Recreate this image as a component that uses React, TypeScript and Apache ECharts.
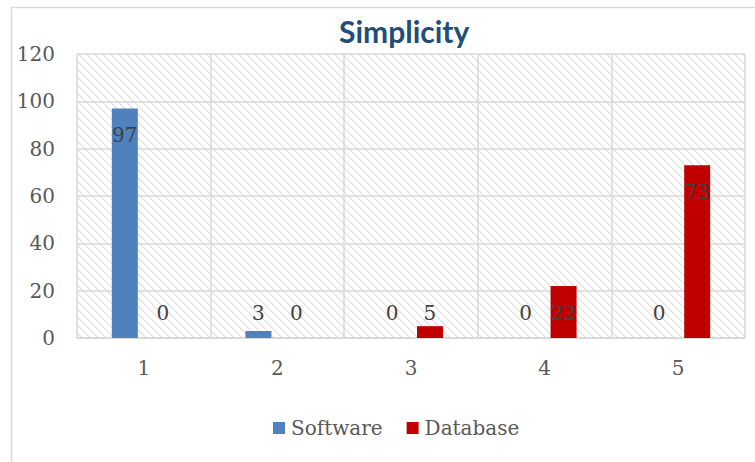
import React, { useEffect, useRef } from "react";
import * as echarts from "echarts";

const categories = ["1", "2", "3", "4", "5"];
const softwareValues = [97, 3, 0, 0, 0];
const databaseValues = [0, 0, 5, 22, 73];
const yMax = 120;
const yInterval = 20;

const GRID_TOP = 54;
const GRID_BOTTOM = 124;
const CHART_H = 462;
const PX_PER_UNIT = (CHART_H - GRID_TOP - GRID_BOTTOM) / yMax;

function makePattern() {
  const c = document.createElement("canvas");
  c.width = 8;
  c.height = 8;
  const ctx = c.getContext("2d")!;
  ctx.fillStyle = "#ffffff";
  ctx.fillRect(0, 0, 8, 8);
  for (let y = 0; y < 8; y++) {
    for (let x = 0; x < 8; x++) {
      const d = (((x - y) % 8) + 8) % 8;
      if (d === 0) {
        ctx.fillStyle = "#dcdcdc";
        ctx.fillRect(x, y, 1, 1);
      } else if (d === 1) {
        ctx.fillStyle = (x + y) % 2 === 0 ? "#e2e2e2" : "#f0f0f0";
        ctx.fillRect(x, y, 1, 1);
      }
    }
  }
  return c;
}

function labelFor(v: number) {
  const h = v * PX_PER_UNIT;
  if (h >= 42) {
    return { position: "insideTop", distance: 17 };
  }
  return { position: "top", distance: 15 - h };
}

function buildData(values: number[]) {
  return values.map((v) => ({ value: v, label: labelFor(v) }));
}

export default function App() {
  const ref = useRef<HTMLDivElement>(null);
  useEffect(() => {
    if (!ref.current) return;
    const chart = echarts.init(ref.current, null, { renderer: "svg" });
    const font = "DejaVu Serif";
    const labelStyle = {
      show: true,
      fontFamily: font,
      fontSize: 20,
      color: "#404040",
    };
    chart.setOption({
      animation: false,
      backgroundColor: "#ffffff",
      title: {
        text: "Simplicity",
        left: 334,
        top: 11,
        textStyle: {
          fontFamily: "Lato",
          fontWeight: "bold",
          fontSize: 30,
          color: "#1F4E79",
        },
      },
      graphic: [
        {
          type: "rect",
          shape: { x: 11.5, y: 7.5, width: 800, height: 500 },
          style: { fill: "none", stroke: "#d9d9d9", lineWidth: 1.5 },
          silent: true,
          z: -10,
        },
      ],
      legend: {
        data: ["Software", "Database"],
        top: 413,
        left: 268,
        icon: "rect",
        itemWidth: 12,
        itemHeight: 12,
        itemGap: 24,
        textStyle: { fontFamily: font, fontSize: 20, color: "#595959", padding: [0, 0, 0, 1] },
      },
      grid: {
        left: 77,
        right: 10,
        top: GRID_TOP,
        bottom: GRID_BOTTOM,
        show: true,
        borderWidth: 0,
        backgroundColor: {
          image: makePattern(),
          repeat: "repeat",
          imageWidth: 8,
          imageHeight: 8,
        } as any,
      },
      xAxis: {
        type: "category",
        data: categories,
        axisLine: { show: true, lineStyle: { color: "#d9d9d9", width: 1.5 } },
        axisTick: { show: false },
        axisLabel: {
          fontFamily: font,
          fontSize: 20,
          color: "#595959",
          margin: 20,
        },
        splitLine: { show: true, lineStyle: { color: "#d9d9d9", width: 1.5 } },
      },
      yAxis: {
        type: "value",
        min: 0,
        max: yMax,
        interval: yInterval,
        axisLine: { show: false },
        axisTick: { show: false },
        axisLabel: {
          fontFamily: font,
          fontSize: 20,
          color: "#595959",
          margin: 22,
        },
        splitLine: { show: true, lineStyle: { color: "#d9d9d9", width: 1.5 } },
      },
      series: [
        {
          name: "Software",
          type: "bar",
          data: buildData(softwareValues),
          barWidth: 26,
          barGap: "46%",
          itemStyle: { color: "#4F81BD" },
          label: labelStyle,
        },
        {
          name: "Database",
          type: "bar",
          data: buildData(databaseValues),
          barWidth: 26,
          barGap: "46%",
          itemStyle: { color: "#C00000" },
          label: labelStyle,
        },
      ],
    });
    return () => chart.dispose();
  }, []);
  return <div ref={ref} style={{ width: 755, height: 462, position: "absolute", left: 0, top: 0 }} />;
}
